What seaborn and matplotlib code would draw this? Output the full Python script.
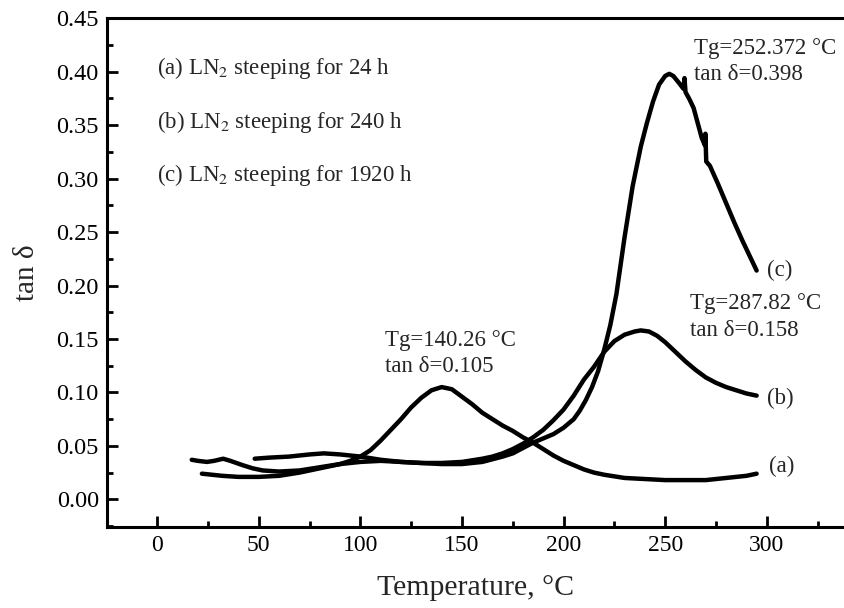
import matplotlib
matplotlib.use("Agg")
import matplotlib.pyplot as plt
import seaborn as sns
import numpy as np
import pandas as pd
from matplotlib.ticker import MultipleLocator, FormatStrFormatter

# curve (a): LN2 steeping 24 h
temp_a = [22, 27, 32, 40, 50, 60, 70, 80, 90, 95, 100, 105, 110, 115, 120, 125,
          130, 135, 140, 145, 150, 155, 160, 165, 170, 175, 180, 185, 190, 195,
          200, 205, 210, 215, 220, 230, 240, 250, 260, 270, 280, 290, 295]
tan_a = [0.024, 0.023, 0.022, 0.021, 0.021, 0.022, 0.025, 0.029, 0.033, 0.036,
         0.040, 0.046, 0.055, 0.065, 0.075, 0.086, 0.095, 0.102, 0.105, 0.103,
         0.096, 0.089, 0.081, 0.075, 0.069, 0.064, 0.058, 0.053, 0.047, 0.041,
         0.036, 0.032, 0.028, 0.025, 0.023, 0.020, 0.019, 0.018, 0.018, 0.018,
         0.020, 0.022, 0.024]

# curve (b): LN2 steeping 240 h
temp_b = [48, 55, 65, 75, 82, 90, 100, 110, 120, 130, 140, 150, 160, 165, 170,
          175, 180, 185, 190, 195, 200, 205, 210, 215, 220, 225, 230, 235, 238,
          242, 246, 250, 255, 260, 265, 270, 275, 280, 285, 290, 295]
tan_b = [0.038, 0.039, 0.040, 0.042, 0.043, 0.042, 0.040, 0.037, 0.035, 0.034,
         0.034, 0.035, 0.038, 0.040, 0.043, 0.047, 0.052, 0.058, 0.065, 0.074,
         0.084, 0.097, 0.112, 0.124, 0.138, 0.148, 0.154, 0.157, 0.158, 0.157,
         0.153, 0.147, 0.138, 0.129, 0.121, 0.114, 0.109, 0.105, 0.102, 0.099,
         0.097]

# curve (c): LN2 steeping 1920 h
temp_c = [17, 20, 24.5, 28, 32.5, 36, 42, 47, 52, 60, 70, 80, 90, 100, 110, 120,
          130, 140, 150, 160, 170, 175, 180, 185, 190, 195, 200, 205, 208, 211,
          214, 217, 220, 223, 226, 230, 234, 238, 241, 244, 247, 250, 252, 254,
          257, 259, 259.5, 260, 262, 264, 266, 268, 269.6, 269.8, 270.2, 272,
          276, 280, 284, 288, 292, 295]
tan_c = [0.037, 0.036, 0.035, 0.036, 0.038, 0.036, 0.032, 0.029, 0.027, 0.026,
         0.027, 0.030, 0.033, 0.035, 0.036, 0.035, 0.034, 0.033, 0.033, 0.035,
         0.040, 0.043, 0.048, 0.053, 0.057, 0.061, 0.067, 0.075, 0.083, 0.093,
         0.105, 0.120, 0.140, 0.163, 0.192, 0.245, 0.293, 0.330, 0.352, 0.372,
         0.388, 0.396, 0.398, 0.396, 0.389, 0.384, 0.394, 0.381, 0.374, 0.366,
         0.352, 0.338, 0.331, 0.342, 0.316, 0.312, 0.295, 0.277, 0.259, 0.242,
         0.226, 0.214]

sns.set_style("ticks")
plt.rcParams['font.family'] = ['Liberation Serif', 'DejaVu Serif']
plt.rcParams['mathtext.fontset'] = 'stix'

fig = plt.figure(figsize=(8.44, 6.08), dpi=100)
ax = fig.add_axes([0.127, 0.133, 0.873, 0.837])

for t, v in [(temp_a, tan_a), (temp_b, tan_b), (temp_c, tan_c)]:
    df = pd.DataFrame({"T": t, "tan": v})
    sns.lineplot(data=df, x="T", y="tan", ax=ax, color="black", lw=3.2,
                 sort=False, estimator=None, solid_joinstyle="round",
                 solid_capstyle="round")

ax.set_xlim(-24.6, 338)
ax.set_ylim(-0.026, 0.45)
ax.xaxis.set_major_locator(MultipleLocator(50))
ax.xaxis.set_minor_locator(MultipleLocator(25))
ax.yaxis.set_major_locator(MultipleLocator(0.05))
ax.yaxis.set_minor_locator(MultipleLocator(0.025))
ax.yaxis.set_major_formatter(FormatStrFormatter('%.2f'))
ax.set_xticks(np.arange(0, 301, 50))
ax.tick_params(which='both', direction='in', width=2, top=False, right=False,
               labelsize=17, pad=6, colors='black')
ax.tick_params(axis='y', labelsize=17.5)
ax.tick_params(which='major', length=8)
ax.tick_params(which='minor', length=4)
for side in ['left', 'bottom', 'top']:
    ax.spines[side].set_linewidth(2.2)
    ax.spines[side].set_color('black')
ax.spines['right'].set_visible(False)

ax.set_xlabel("Temperature, °C", fontsize=21.5, labelpad=13)
ax.set_ylabel("tan δ", fontsize=21, labelpad=12)

fs = 16.5
ax.text(0, 0.403, "(a) LN$_2$ steeping for 24 h", fontsize=fs, va='center')
ax.text(0, 0.353, "(b) LN$_2$ steeping for 240 h", fontsize=fs, va='center')
ax.text(0, 0.303, "(c) LN$_2$ steeping for 1920 h", fontsize=fs, va='center')

ax.text(264, 0.422, "Tg=252.372 °C", fontsize=fs, va='center', clip_on=False)
ax.text(264, 0.397, "tan δ=0.398", fontsize=fs, va='center')
ax.text(262, 0.183, "Tg=287.82 °C", fontsize=fs, va='center')
ax.text(262, 0.158, "tan δ=0.158", fontsize=fs, va='center')
ax.text(112, 0.149, "Tg=140.26 °C", fontsize=fs, va='center')
ax.text(112, 0.124, "tan δ=0.105", fontsize=fs, va='center')

ax.text(300, 0.214, "(c)", fontsize=fs, va='center')
ax.text(300, 0.094, "(b)", fontsize=fs, va='center')
ax.text(301, 0.031, "(a)", fontsize=fs, va='center')

fig.savefig("out.png", dpi=100)
